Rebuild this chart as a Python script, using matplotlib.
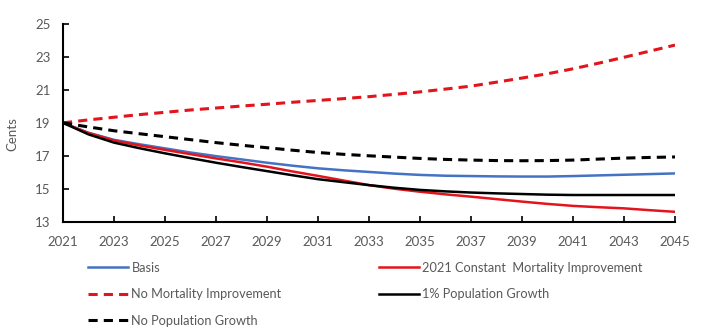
import matplotlib.pyplot as plt
from matplotlib.lines import Line2D

# Values (cents), one per year 2021-2045
years = list(range(2021, 2046))

basis = [19.0, 18.4, 17.97, 17.7, 17.45, 17.2, 16.98, 16.78, 16.58, 16.4,
         16.24, 16.12, 16.02, 15.92, 15.84, 15.79, 15.77, 15.75, 15.74, 15.74,
         15.77, 15.81, 15.85, 15.89, 15.93]
const_mort = [19.0, 18.38, 17.93, 17.63, 17.36, 17.1, 16.84, 16.6, 16.34, 16.05,
              15.78, 15.5, 15.22, 15.0, 14.82, 14.66, 14.52, 14.37, 14.22, 14.08,
              13.96, 13.88, 13.81, 13.7, 13.6]
no_mort = [19.0, 19.18, 19.34, 19.5, 19.64, 19.78, 19.9, 20.02, 20.13, 20.25,
           20.36, 20.47, 20.59, 20.73, 20.88, 21.05, 21.23, 21.47, 21.72, 21.98,
           22.28, 22.62, 22.98, 23.35, 23.72]
pop_growth_1 = [19.0, 18.3, 17.8, 17.46, 17.15, 16.86, 16.58, 16.32, 16.07, 15.82,
                15.58, 15.4, 15.22, 15.06, 14.93, 14.84, 14.77, 14.72, 14.68, 14.64,
                14.62, 14.62, 14.62, 14.62, 14.62]
no_pop_growth = [19.0, 18.75, 18.52, 18.34, 18.16, 17.98, 17.8, 17.64, 17.49, 17.34,
                 17.2, 17.09, 17.0, 16.92, 16.84, 16.78, 16.74, 16.71, 16.7, 16.71,
                 16.74, 16.8, 16.86, 16.9, 16.93]

x_ticks = list(range(2021, 2046, 2))
y_ticks = list(range(13, 26, 2))

BLUE = '#4472C4'
RED = '#E3141C'
GRAY = '#595959'

plt.rcParams['font.family'] = ['Lato', 'DejaVu Sans']

fig = plt.figure(figsize=(7.03, 3.29), dpi=100)
ax = fig.add_axes([63 / 703, 1 - 221.7 / 329, (675 - 63) / 703, (221.7 - 24) / 329])

ax.plot(years, basis, color=BLUE, lw=1.8, label='Basis')
ax.plot(years, const_mort, color=RED, lw=1.8, label='2021 Constant  Mortality Improvement')
ax.plot(years, no_mort, color=RED, lw=2.2, dashes=(3, 2), label='No Mortality Improvement')
ax.plot(years, pop_growth_1, color='black', lw=1.8, label='1% Population Growth')
ax.plot(years, no_pop_growth, color='black', lw=2.2, dashes=(3, 2), label='No Population Growth')

ax.set_xlim(2021, 2045)
ax.set_ylim(13, 25)
ax.set_xticks(x_ticks)
ax.set_yticks(y_ticks)
ax.tick_params(direction='in', length=4, width=1.2, colors='black',
               labelcolor=GRAY, labelsize=9.5)
ax.tick_params(axis='x', pad=10)
ax.tick_params(axis='y', pad=9)
for side in ['top', 'right']:
    ax.spines[side].set_visible(False)
for side in ['left', 'bottom']:
    ax.spines[side].set_linewidth(1.5)

fig.text(12 / 703, 1 - 134 / 329, 'Cents', rotation=90, color=GRAY,
         fontsize=9.5, ha='center', va='center')

def handle(color, dashed):
    if dashed:
        return Line2D([], [], color=color, lw=2.2, dashes=(3, 2))
    return Line2D([], [], color=color, lw=1.8)

leg_kw = dict(loc='upper left', frameon=False, borderpad=0, borderaxespad=0,
              handlelength=3.1, handletextpad=0.3, labelspacing=1.14,
              fontsize=9.2, labelcolor=GRAY)
fig.legend([handle(BLUE, False), handle(RED, True), handle('black', True)],
           ['Basis', 'No Mortality Improvement', 'No Population Growth'],
           bbox_to_anchor=(88 / 703, 1 - 261.5 / 329), **leg_kw)
fig.legend([handle(RED, False), handle('black', False)],
           ['2021 Constant  Mortality Improvement', '1% Population Growth'],
           bbox_to_anchor=(379 / 703, 1 - 261.5 / 329), **leg_kw)

fig.savefig('out.png', dpi=100)
